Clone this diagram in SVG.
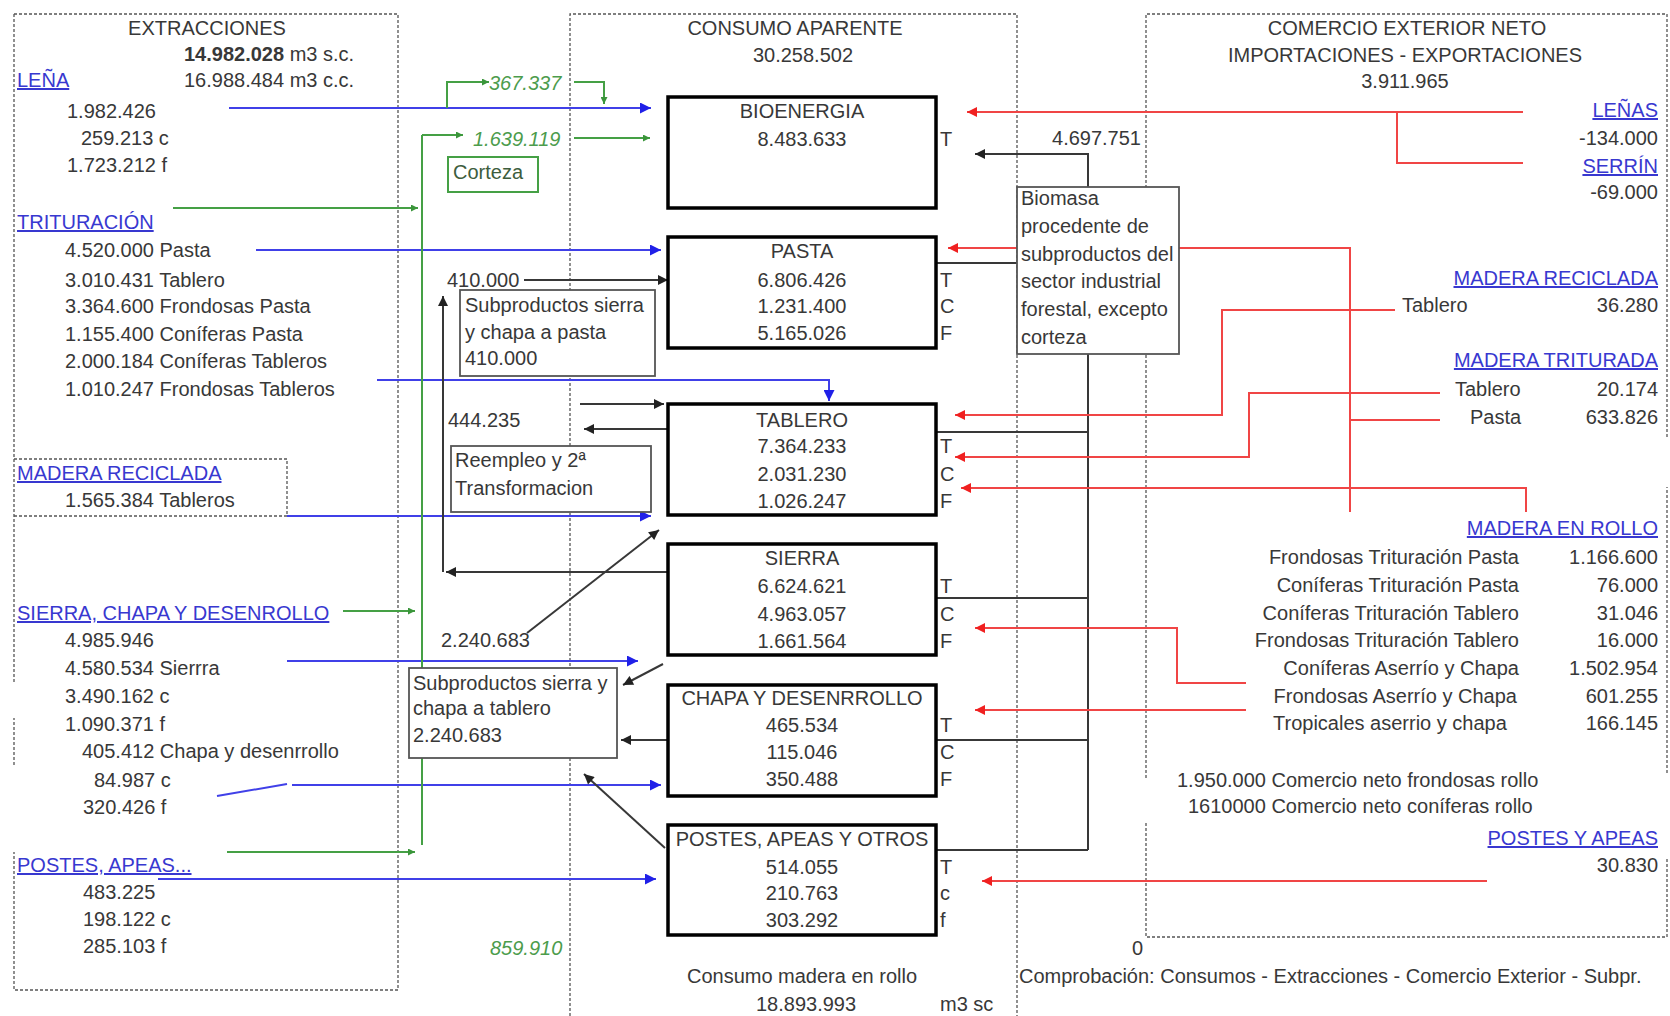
<svg xmlns="http://www.w3.org/2000/svg" width="1670" height="1016" viewBox="0 0 1670 1016">
<style>
text{font-family:"Liberation Sans",Arial,sans-serif;font-size:20px;fill:#383838}
.b{font-weight:bold}
.m{text-anchor:middle}
.e{text-anchor:end}
.lk{fill:#3838d0;text-decoration:underline}
.gi{fill:#4c9c4c;font-style:italic}
.dash{fill:none;stroke:#555;stroke-width:1.3;stroke-dasharray:3 2}
.node{fill:#fff;stroke:#000;stroke-width:3.5}
.lbl{fill:#fff;stroke:#555;stroke-width:1.8}
.bl{fill:none;stroke:#4040e8;stroke-width:2}
.rd{fill:none;stroke:#f04545;stroke-width:2}
.gr{fill:none;stroke:#45a045;stroke-width:2}
.bk{fill:none;stroke:#383838;stroke-width:2}
</style>
<defs>
<marker id="ab" viewBox="0 0 10 10" refX="10" refY="5" markerWidth="13" markerHeight="11" orient="auto" markerUnits="userSpaceOnUse"><path d="M0,0 L10,5 L0,10 z" fill="#2020e8"/></marker>
<marker id="ar" viewBox="0 0 10 10" refX="10" refY="5" markerWidth="13" markerHeight="10" orient="auto" markerUnits="userSpaceOnUse"><path d="M0,0 L10,5 L0,10 z" fill="#f02020"/></marker>
<marker id="ag" viewBox="0 0 10 10" refX="10" refY="5" markerWidth="9" markerHeight="7" orient="auto" markerUnits="userSpaceOnUse"><path d="M0,0 L10,5 L0,10 z" fill="#3a953a"/></marker>
<marker id="ak" viewBox="0 0 10 10" refX="10" refY="5" markerWidth="12" markerHeight="10" orient="auto" markerUnits="userSpaceOnUse"><path d="M0,0 L10,5 L0,10 z" fill="#222"/></marker>
</defs>
<rect width="1670" height="1016" fill="#fff"/>

<g id="extracciones">
<path class="dash" d="M14,14 H398 V990 H14 V852 M14,765 V718 M14,682 V14"/>
<path class="dash" d="M14,459 H287 V516 H14"/>
<text class="m" x="207" y="35">EXTRACCIONES</text>
<text x="184" y="61"><tspan class="b">14.982.028</tspan> m3 s.c.</text>
<text class="lk" x="17" y="87">LEÑA</text>
<text x="184" y="87">16.988.484 m3 c.c.</text>
<text x="67" y="118">1.982.426</text>
<text x="81" y="145">259.213 c</text>
<text x="67" y="172">1.723.212 f</text>
<text class="lk" x="17" y="229">TRITURACIÓN</text>
<text x="65" y="257">4.520.000 Pasta</text>
<text x="65" y="287">3.010.431 Tablero</text>
<text x="65" y="313">3.364.600 Frondosas Pasta</text>
<text x="65" y="341">1.155.400 Coníferas Pasta</text>
<text x="65" y="368">2.000.184 Coníferas Tableros</text>
<text x="65" y="396">1.010.247 Frondosas Tableros</text>
<text class="lk" x="17" y="480">MADERA RECICLADA</text>
<text x="65" y="507">1.565.384 Tableros</text>
<text class="lk" x="17" y="620">SIERRA, CHAPA Y DESENROLLO</text>
<text x="65" y="647">4.985.946</text>
<text x="65" y="675">4.580.534 Sierrra</text>
<text x="65" y="703">3.490.162 c</text>
<text x="65" y="731">1.090.371 f</text>
<text x="82" y="758">405.412 Chapa y desenrrollo</text>
<text x="94" y="787">84.987 c</text>
<text x="83" y="814">320.426 f</text>
<text class="lk" x="17" y="872">POSTES, APEAS...</text>
<text x="83" y="899">483.225</text>
<text x="83" y="926">198.122 c</text>
<text x="83" y="953">285.103 f</text>
</g>

<g id="consumo">
<path class="dash" d="M570,1016 V14 H1017 V1016"/>
<text class="m" x="795" y="35">CONSUMO APARENTE</text>
<text class="m" x="803" y="62">30.258.502</text>
<text class="m" x="802" y="983">Consumo madera en rollo</text>
<text x="756" y="1011">18.893.993</text>
<text x="940" y="1011">m3 sc</text>
</g>

<g id="comercio">
<path class="dash" d="M1146,823 V937 H1667 V857 M1667,773 V487 M1667,437 V14 H1146 V780"/>
<text class="m" x="1407" y="35">COMERCIO EXTERIOR NETO</text>
<text class="m" x="1405" y="62">IMPORTACIONES - EXPORTACIONES</text>
<text class="m" x="1405" y="88">3.911.965</text>
<text class="lk e" x="1658" y="117">LEÑAS</text>
<text class="e" x="1658" y="145">-134.000</text>
<text class="lk e" x="1658" y="173">SERRÍN</text>
<text class="e" x="1658" y="199">-69.000</text>
<text class="lk e" x="1658" y="285">MADERA RECICLADA</text>
<text x="1402" y="312">Tablero</text>
<text class="e" x="1658" y="312">36.280</text>
<text class="lk e" x="1658" y="367">MADERA TRITURADA</text>
<text x="1455" y="396">Tablero</text>
<text class="e" x="1658" y="396">20.174</text>
<text x="1470" y="424">Pasta</text>
<text class="e" x="1658" y="424">633.826</text>
<text class="lk e" x="1658" y="535">MADERA EN ROLLO</text>
<text class="e" x="1519" y="564">Frondosas Trituración Pasta</text>
<text class="e" x="1658" y="564">1.166.600</text>
<text class="e" x="1519" y="592">Coníferas Trituración Pasta</text>
<text class="e" x="1658" y="592">76.000</text>
<text class="e" x="1519" y="620">Coníferas Trituración Tablero</text>
<text class="e" x="1658" y="620">31.046</text>
<text class="e" x="1519" y="647">Frondosas Trituración Tablero</text>
<text class="e" x="1658" y="647">16.000</text>
<text class="e" x="1519" y="675">Coníferas Aserrío y Chapa</text>
<text class="e" x="1658" y="675">1.502.954</text>
<text class="e" x="1517" y="703">Frondosas Aserrío y Chapa</text>
<text class="e" x="1658" y="703">601.255</text>
<text x="1273" y="730">Tropicales aserrio y chapa</text>
<text class="e" x="1658" y="730">166.145</text>
<text x="1177" y="787">1.950.000 Comercio neto frondosas rollo</text>
<text x="1188" y="813">1610000 Comercio neto coníferas rollo</text>
<text class="lk e" x="1658" y="845">POSTES Y APEAS</text>
<text class="e" x="1658" y="872">30.830</text>
<text x="1132" y="955">0</text>
<text x="1019" y="983">Comprobación: Consumos - Extracciones - Comercio Exterior - Subpr.</text>
</g>

<g id="connectors">
<path class="bl" d="M229,108 H651" marker-end="url(#ab)"/>
<path class="bl" d="M256,250 H661" marker-end="url(#ab)"/>
<path class="bl" d="M377,380 H829 V401" marker-end="url(#ab)"/>
<path class="bl" d="M287,516 H651" marker-end="url(#ab)"/>
<path class="bl" d="M287,661 H638" marker-end="url(#ab)"/>
<path class="bl" d="M217,796 L287,784"/>
<path class="bl" d="M292,785 H661" marker-end="url(#ab)"/>
<path class="bl" d="M158,879 H656" marker-end="url(#ab)"/>
<path class="gr" d="M422,135 V845"/>
<path class="gr" d="M422,135 H463" marker-end="url(#ag)"/>
<path class="gr" d="M447,108 V82 H489" marker-end="url(#ag)"/>
<path class="gr" d="M574,82 H604 V104" marker-end="url(#ag)"/>
<path class="gr" d="M574,138 H650" marker-end="url(#ag)"/>
<path class="gr" d="M173,208 H418" marker-end="url(#ag)"/>
<path class="gr" d="M343,611 H415" marker-end="url(#ag)"/>
<path class="gr" d="M227,852 H415" marker-end="url(#ag)"/>
<path class="bk" d="M524,280 H668" marker-end="url(#ak)"/>
<path class="bk" d="M668,572 H446" marker-end="url(#ak)"/>
<path class="bk" d="M443,572 V296" marker-end="url(#ak)"/>
<path class="bk" d="M580,404 H664" marker-end="url(#ak)"/>
<path class="bk" d="M668,429 H584" marker-end="url(#ak)"/>
<path class="bk" d="M527,633 L659,530" marker-end="url(#ak)"/>
<path class="bk" d="M663,664 L623,685" marker-end="url(#ak)"/>
<path class="bk" d="M668,740 H621" marker-end="url(#ak)"/>
<path class="bk" d="M665,848 L584,774" marker-end="url(#ak)"/>
<path class="bk" d="M1088,154 H975" marker-end="url(#ak)"/>
<path class="bk" d="M1088,153 V850 M937,263 H1017 M937,432 H1088 M937,598 H1088 M937,740 H1088 M937,850 H1088"/>
<path class="rd" d="M1523,112 H967" marker-end="url(#ar)"/>
<path class="rd" d="M1523,163 H1397 V112"/>
<path class="rd" d="M1350,512 V248 H948" marker-end="url(#ar)"/>
<path class="rd" d="M1440,420 H1350"/>
<path class="rd" d="M1395,310 H1222 V415 H955" marker-end="url(#ar)"/>
<path class="rd" d="M1440,393 H1249 V457 H955" marker-end="url(#ar)"/>
<path class="rd" d="M1526,512 V488 H961" marker-end="url(#ar)"/>
<path class="rd" d="M1246,683 H1177 V628 H975" marker-end="url(#ar)"/>
<path class="rd" d="M1246,710 H975" marker-end="url(#ar)"/>
<path class="rd" d="M1487,881 H982" marker-end="url(#ar)"/>
</g>

<g id="flow-labels">
<text class="gi" x="489" y="90">367.337</text>
<text class="gi" x="473" y="146">1.639.119</text>
<text class="gi" x="490" y="955">859.910</text>
<text x="447" y="287">410.000</text>
<text x="448" y="427">444.235</text>
<text x="441" y="647">2.240.683</text>
<text class="e" x="1141" y="145">4.697.751</text>
</g>

<g id="corteza">
<rect x="448" y="157" width="90" height="35" fill="#fff" stroke="#45a045" stroke-width="2"/>
<text x="453" y="179" style="fill:#3d5d3d">Corteza</text>
</g>

<g id="subprod-pasta">
<rect class="lbl" x="460" y="290" width="195" height="86"/>
<text x="465" y="312">Subproductos sierra</text>
<text x="465" y="339">y chapa a pasta</text>
<text x="465" y="365">410.000</text>
</g>

<g id="reempleo">
<rect class="lbl" x="451" y="446" width="200" height="66"/>
<text x="455" y="467">Reempleo  y 2ª</text>
<text x="455" y="495">Transformacion</text>
</g>

<g id="subprod-tablero">
<rect class="lbl" x="409" y="668" width="208" height="90"/>
<text x="413" y="690">Subproductos sierra y</text>
<text x="413" y="715">chapa a tablero</text>
<text x="413" y="742">2.240.683</text>
</g>

<g id="biomasa">
<rect class="lbl" x="1017" y="187" width="162" height="167"/>
<text x="1021" y="205">Biomasa</text>
<text x="1021" y="233">procedente de</text>
<text x="1021" y="261">subproductos del</text>
<text x="1021" y="288">sector industrial</text>
<text x="1021" y="316">forestal, excepto</text>
<text x="1021" y="344">corteza</text>
</g>

<g id="bioenergia">
<rect class="node" x="668" y="97" width="268" height="111"/>
<text class="m" x="802" y="118">BIOENERGIA</text>
<text class="m" x="802" y="146">8.483.633</text>
<text x="940" y="146">T</text>
</g>

<g id="pasta">
<rect class="node" x="668" y="237" width="268" height="111"/>
<text class="m" x="802" y="258">PASTA</text>
<text class="m" x="802" y="287">6.806.426</text>
<text class="m" x="802" y="313">1.231.400</text>
<text class="m" x="802" y="340">5.165.026</text>
<text x="940" y="287">T</text>
<text x="940" y="313">C</text>
<text x="940" y="340">F</text>
</g>

<g id="tablero">
<rect class="node" x="668" y="404" width="268" height="111"/>
<text class="m" x="802" y="427">TABLERO</text>
<text class="m" x="802" y="453">7.364.233</text>
<text class="m" x="802" y="481">2.031.230</text>
<text class="m" x="802" y="508">1.026.247</text>
<text x="940" y="453">T</text>
<text x="940" y="481">C</text>
<text x="940" y="508">F</text>
</g>

<g id="sierra">
<rect class="node" x="668" y="544" width="268" height="111"/>
<text class="m" x="802" y="565">SIERRA</text>
<text class="m" x="802" y="593">6.624.621</text>
<text class="m" x="802" y="621">4.963.057</text>
<text class="m" x="802" y="648">1.661.564</text>
<text x="940" y="593">T</text>
<text x="940" y="621">C</text>
<text x="940" y="648">F</text>
</g>

<g id="chapa">
<rect class="node" x="668" y="685" width="268" height="111"/>
<text class="m" x="802" y="705">CHAPA Y DESENRROLLO</text>
<text class="m" x="802" y="732">465.534</text>
<text class="m" x="802" y="759">115.046</text>
<text class="m" x="802" y="786">350.488</text>
<text x="940" y="732">T</text>
<text x="940" y="759">C</text>
<text x="940" y="786">F</text>
</g>

<g id="postes">
<rect class="node" x="668" y="825" width="268" height="110"/>
<text class="m" x="802" y="846">POSTES, APEAS Y OTROS</text>
<text class="m" x="802" y="874">514.055</text>
<text class="m" x="802" y="900">210.763</text>
<text class="m" x="802" y="927">303.292</text>
<text x="940" y="874">T</text>
<text x="940" y="900">c</text>
<text x="940" y="927">f</text>
</g>
</svg>
